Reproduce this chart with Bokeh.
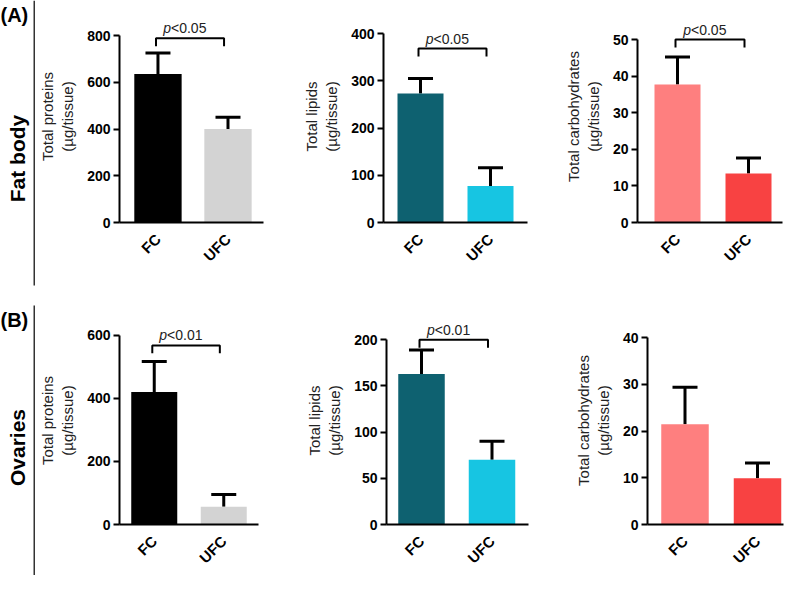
import math
from bokeh.plotting import figure
from bokeh.layouts import row, column
from bokeh.models import Range1d, FixedTicker, Whisker, ColumnDataSource, TeeHead, Label
from bokeh.core.properties import value
from bokeh.embed import file_html
from bokeh.resources import INLINE

# ---------------- data ----------------
categories = ["FC", "UFC"]

fb_protein_mean = [635, 400]
fb_protein_err = [90, 50]
fb_lipid_mean = [273, 77]
fb_lipid_err = [32, 39]
fb_carb_mean = [37.7, 13.4]
fb_carb_err = [7.5, 4.2]

ov_protein_mean = [420, 56]
ov_protein_err = [97, 39]
ov_lipid_mean = [163, 70]
ov_lipid_err = [26, 20]
ov_carb_mean = [21.5, 9.9]
ov_carb_err = [7.9, 3.3]

fb_protein_ticks = [0, 200, 400, 600, 800]
fb_lipid_ticks = [0, 100, 200, 300, 400]
fb_carb_ticks = [0, 10, 20, 30, 40, 50]
ov_protein_ticks = [0, 200, 400, 600]
ov_lipid_ticks = [0, 50, 100, 150, 200]
ov_carb_ticks = [0, 10, 20, 30, 40]

protein_title = "Total proteins\n(\u00b5g/tissue)"
lipid_title = "Total lipids\n(\u00b5g/tissue)"
carb_title = "Total carbohydrates\n(\u00b5g/tissue)"

fb_pvalues = ["<0.05", "<0.05", "<0.05"]
ov_pvalues = ["<0.01", "<0.01", None]

row_labels = ["(A)", "(B)"]
tissue_labels = ["Fat body", "Ovaries"]

# ---------------- styles ----------------
protein_colors = ["#000000", "#d3d3d3"]
lipid_colors = ["#0e6170", "#17c5e2"]
carb_colors = ["#fe7f7f", "#f84242"]

FONT = "Liberation Sans"
LINE = "#333333"

W_TOTAL = 784
H_TOTAL = 575
LEFT_W = 35
COLS = [35, 290, 545, 784]
# row: figure top, figure height, frame top, y pixel of value 0
ROW_A = (2, 302, 10, 222)
ROW_B = (306, 269, 316, 526)


def panel(mean, err, colors, ticks, title, pval, geo, col, rowgeo):
    axis_x, right, c1, c2, bw, ytop, bracket_val = geo
    fig_left, fig_right = COLS[col], COLS[col + 1]
    fig_top, fig_h, frame_top, y0 = rowgeo
    fig_w = fig_right - fig_left

    ppu = c2 - c1
    xs = [1 + i for i in range(len(categories))]
    x_start = 1 - (c1 - axis_x) / ppu
    x_end = 1 + (right - c1) / ppu
    tmax = ticks[-1]
    ppv = (y0 - ytop) / tmax
    y_end = (y0 - frame_top) / ppv

    p = figure(width=fig_w, height=fig_h,
               x_range=Range1d(x_start, x_end), y_range=Range1d(0, y_end),
               output_backend="svg", toolbar_location=None,
               min_border_left=axis_x - fig_left,
               min_border_right=fig_right - right,
               min_border_top=frame_top - fig_top,
               min_border_bottom=fig_top + fig_h - y0)
    p.grid.visible = False
    p.outline_line_color = None
    p.background_fill_color = "white"
    p.border_fill_color = "white"

    src = ColumnDataSource(dict(
        x=xs, mean=mean, upper=[m + e for m, e in zip(mean, err)], color=colors))
    p.vbar(x="x", top="mean", bottom=0, width=bw / ppu, fill_color="color",
           line_color=None, source=src)
    p.add_layout(Whisker(base="x", upper="upper", lower="mean", source=src,
                         line_width=3, line_color="black",
                         upper_head=TeeHead(size=25, line_width=3, line_color="black"),
                         lower_head=None))

    if pval is not None:
        drop = 8 / ppv
        b0 = xs[0] - 2 / ppu
        b1 = xs[1] - 4 / ppu
        p.line(x=[b0, b0, b1, b1], y=[bracket_val - drop, bracket_val, bracket_val, bracket_val - drop],
               line_width=2, line_color="black")
        mid = (b0 + b1) / 2
        p.add_layout(Label(x=mid, y=bracket_val, text="p", text_align="right",
                           text_baseline="alphabetic", x_offset=-19, y_offset=10,
                           text_font=FONT, text_font_style="italic",
                           text_font_size="14px", text_color="#222222"))
        p.add_layout(Label(x=mid, y=bracket_val, text=pval, text_align="left",
                           text_baseline="alphabetic", x_offset=-19, y_offset=10,
                           text_font=FONT, text_font_style="normal",
                           text_font_size="14px", text_color="#222222"))

    # x axis
    xa = p.xaxis[0]
    xa.ticker = FixedTicker(ticks=xs)
    xa.major_label_overrides = {x: c for x, c in zip(xs, categories)}
    xa.major_label_orientation = math.pi / 4
    xa.major_tick_out = 0
    xa.major_tick_in = 0
    xa.minor_tick_line_color = None
    xa.axis_line_width = 2
    xa.axis_line_color = "black"
    xa.major_label_text_font = FONT
    xa.major_label_text_font_style = "bold"
    xa.major_label_text_font_size = "15px"
    xa.major_label_text_color = "black"
    xa.major_label_standoff = 14

    # y axis
    ya = p.yaxis[0]
    ya.ticker = FixedTicker(ticks=ticks)
    ya.bounds = (0, tmax)
    ya.major_tick_out = 6
    ya.major_tick_in = 0
    ya.major_tick_line_width = 2
    ya.major_tick_line_color = "black"
    ya.minor_tick_line_color = None
    ya.axis_line_width = 2
    ya.axis_line_color = "black"
    ya.major_label_text_font = FONT
    ya.major_label_text_font_style = "bold"
    ya.major_label_text_font_size = "14px"
    ya.major_label_text_color = "black"
    ya.major_label_standoff = 3
    ya.axis_label = title
    ya.axis_label_text_font = FONT
    ya.axis_label_text_font_style = "normal"
    ya.axis_label_text_font_size = "15px"
    ya.axis_label_text_color = "#222222"
    ya.axis_label_standoff = 8
    return p


# geometry in page pixels:
# axis_x, frame_right, FC centre, UFC centre, bar width, y of top tick, bracket level
p1 = panel(fb_protein_mean, fb_protein_err, protein_colors, fb_protein_ticks, protein_title,
           fb_pvalues[0], (117, 263, 156, 227, 48, 35, 788), 0, ROW_A)
p2 = panel(fb_lipid_mean, fb_lipid_err, lipid_colors, fb_lipid_ticks, lipid_title,
           fb_pvalues[1], (383, 527, 420, 490, 46, 33, 368), 1, ROW_A)
p3 = panel(fb_carb_mean, fb_carb_err, carb_colors, fb_carb_ticks, carb_title,
           fb_pvalues[2], (637, 782, 677, 748, 46, 39, 50), 2, ROW_A)
p4 = panel(ov_protein_mean, ov_protein_err, protein_colors, ov_protein_ticks, protein_title,
           ov_pvalues[0], (116, 258, 151.5, 222.5, 47, 335, 568), 0, ROW_B)
p5 = panel(ov_lipid_mean, ov_lipid_err, lipid_colors, ov_lipid_ticks, lipid_title,
           ov_pvalues[1], (386, 528, 421, 491.5, 46.5, 339.5, 200), 1, ROW_B)
p6 = panel(ov_carb_mean, ov_carb_err, carb_colors, ov_carb_ticks, carb_title,
           ov_pvalues[2], (647, 783, 684.5, 757, 47.5, 337.5, None), 2, ROW_B)


def hline(width):
    f = figure(width=width, height=2, x_range=Range1d(0, 1), y_range=Range1d(0, 1),
               output_backend="svg", toolbar_location=None, min_border=0)
    f.axis.visible = False
    f.grid.visible = False
    f.outline_line_color = None
    f.background_fill_color = LINE
    f.border_fill_color = LINE
    return f


# left strip with panel letters, tissue names and the vertical frame line
lf = figure(width=LEFT_W, height=H_TOTAL, x_range=Range1d(0, LEFT_W), y_range=Range1d(0, H_TOTAL),
            output_backend="svg", toolbar_location=None, min_border=0)
lf.axis.visible = False
lf.grid.visible = False
lf.outline_line_color = None
lf.segment(x0=[34, 34], y0=[H_TOTAL - 0, H_TOTAL - 305], x1=[34, 34], y1=[H_TOTAL - 285, 0],
           line_width=2, line_color=LINE)
lf.text(x=[0, 0], y=[H_TOTAL - 3, H_TOTAL - 308], text=row_labels, text_align="left",
        text_baseline="top", text_font=value(FONT), text_font_style="bold",
        text_font_size="20px", text_color="black")
lf.text(x=[17, 17], y=[H_TOTAL - 158, H_TOTAL - 447], text=tissue_labels, angle=math.pi / 2,
        text_align="center", text_baseline="middle", text_font=value(FONT),
        text_font_style="bold", text_font_size="21px", text_color="black")

right = column(hline(W_TOTAL - LEFT_W), row(p1, p2, p3), hline(W_TOTAL - LEFT_W), row(p4, p5, p6))
layout = row(lf, right)

open("out.html", "w").write(file_html(layout, INLINE))
